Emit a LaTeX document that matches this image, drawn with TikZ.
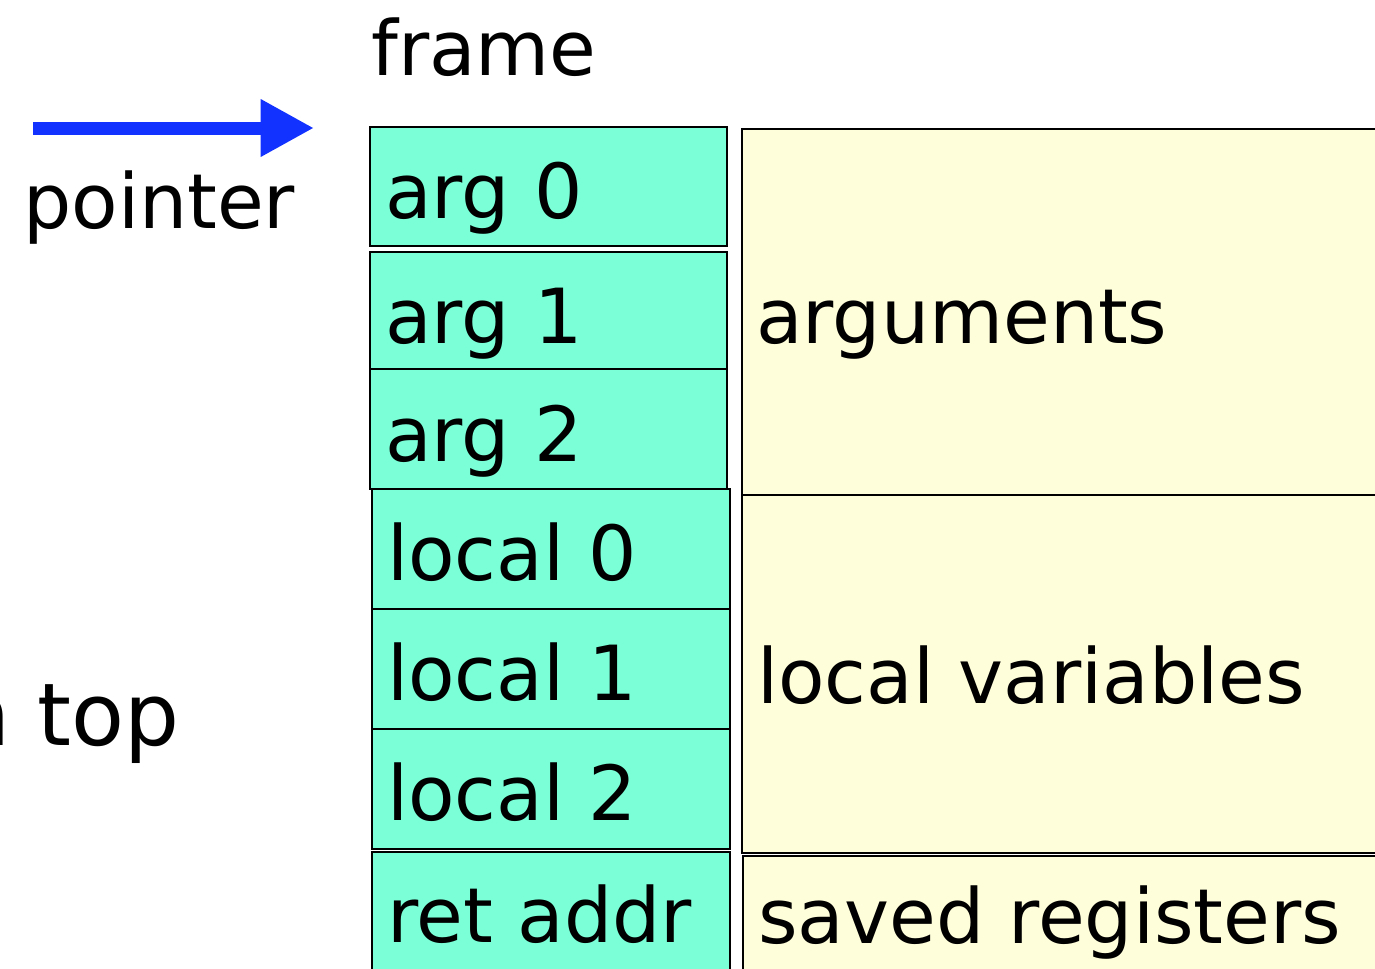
\documentclass[tikz,border=0pt]{standalone}
\usepackage{fontspec}
\setmainfont{DejaVu Sans}
\usetikzlibrary{arrows.meta}
\definecolor{cellgreen}{RGB}{122,255,215}
\definecolor{cellyellow}{RGB}{255,254,218}
\definecolor{ptrblue}{RGB}{18,50,255}
\tikzset{
  cell/.style={draw=black, line width=1.5pt, fill=cellgreen, inner sep=0pt, outer sep=0pt},
  group/.style={draw=black, line width=1.5pt, fill=cellyellow, inner sep=0pt, outer sep=0pt},
  lbl/.style={anchor=base west, inner sep=0pt, font=\fontsize{57}{61}\selectfont},
}
\newcommand{\boxat}[6]{% style, name, x1, y1, x2, y2
  \node[#1, minimum width={(#5-#3)*0.75pt}, minimum height={(#6-#4)*0.75pt}, anchor=north west] (#2) at (#3,#4) {};}
\begin{document}
\begin{tikzpicture}[x=0.75pt, y=-0.75pt]
\useasboundingbox (0,0) rectangle (1375,968);
\clip (0,0) rectangle (1375,968);
% yellow groups
\boxat{group}{gargs}{742}{129}{1400}{495}
\boxat{group}{glocals}{742}{495}{1400}{853}
\boxat{group}{gsaved}{743}{856}{1400}{1000}
% green cells
\boxat{cell}{a0}{370}{127}{727}{246}
\boxat{cell}{a1}{370}{252}{727}{369}
\boxat{cell}{a2}{370}{369}{727}{489}
\boxat{cell}{l0}{372}{489}{730}{609}
\boxat{cell}{l1}{372}{609}{730}{729}
\boxat{cell}{l2}{372}{729}{730}{849}
\boxat{cell}{ra}{372}{852}{730}{1000}
% labels
\node[lbl] (ta0) at (385,218) {arg 0};
\node[lbl] (ta1) at (385,343) {arg 1};
\node[lbl] (ta2) at (385,461) {arg 2};
\node[lbl] (tl0) at (387,580) {local 0};
\node[lbl] (tl1) at (387,700) {local 1};
\node[lbl] (tl2) at (387,820) {local 2};
\node[lbl] (tra) at (387,942) {ret addr};
\node[lbl] (targs) at (756,343) {arguments};
\node[lbl] (tlv) at (757,703) {local variables};
\node[lbl] (tsr) at (758,943) {saved registers};
\node[lbl] (tframe) at (371,75) {frame};
\node[lbl] (tptr) at (23,228) {pointer};
\node[anchor=base east, inner sep=0pt, font=\fontsize{65}{70}\selectfont] (ttop) at (180,745) {n top};
% arrow
\coordinate (ps) at (33,128);
\coordinate (pe) at (314,128);
\draw[ptrblue, line width=9.75pt, -{Triangle[length=40pt,width=40.5pt]}] (ps) -- (pe);
\end{tikzpicture}
\end{document}
